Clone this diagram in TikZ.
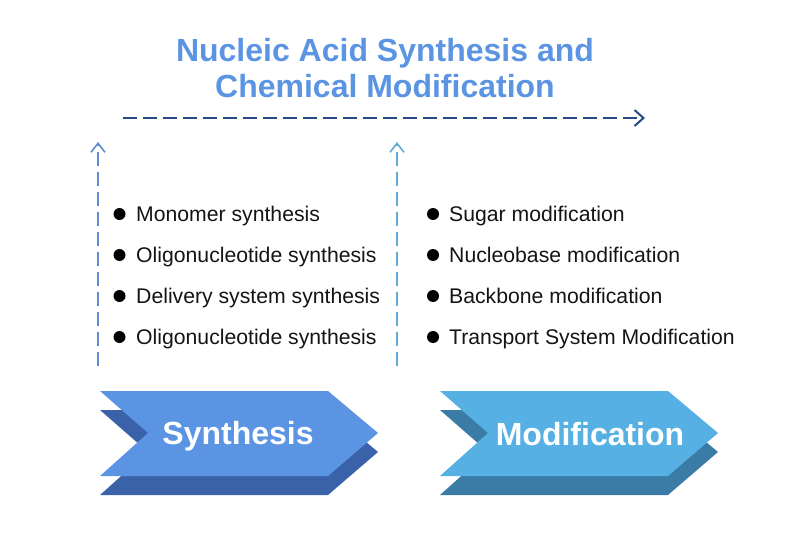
\documentclass[tikz,border=0pt]{standalone}
\usepackage{fontspec}
\setmainfont{Liberation Sans}
\usepackage{xcolor}
\usepackage{tikz}
\usetikzlibrary{positioning,arrows.meta}

\definecolor{synfront}{RGB}{91,148,227}
\definecolor{synback}{RGB}{58,98,168}
\definecolor{modfront}{RGB}{86,176,227}
\definecolor{modback}{RGB}{58,124,166}
\definecolor{flowblue}{RGB}{40,75,135}
\definecolor{upleft}{RGB}{95,140,210}
\definecolor{upright}{RGB}{95,172,212}

\begin{document}
\begin{tikzpicture}[x=1pt, y=-1pt,
  ttl/.style={font=\bfseries\fontsize{32}{36}\selectfont, text=synfront,
              inner sep=0pt, anchor=base},
  itm/.style={font=\fontsize{21.2}{24}\selectfont, text=black!92,
              inner sep=0pt, anchor=base west},
  dot/.style={circle, fill=black, minimum size=12pt, inner sep=0pt},
  lbl/.style={font=\bfseries\fontsize{32}{36}\selectfont, text=white,
              inner sep=0pt, anchor=base},
  flow/.style={draw=flowblue, line width=2pt, dash pattern=on 14pt off 6pt,
               -{Straight Barb[length=9pt, width=16pt, line width=2pt]}},
  up/.style={line width=1.5pt, dash pattern=on 14pt off 6pt,
             -{Straight Barb[length=9pt, width=14pt, line width=1.6pt]}}]
  \useasboundingbox (0,0) rectangle (810,537);
  % title
  \node[ttl] (title1) at (385,62) {Nucleic Acid Synthesis and};
  \node[ttl] (title2) at (385,97.5) {Chemical Modification};
  % dashed arrows
  \coordinate (flowA) at (123,118);
  \coordinate (flowB) at (645,118);
  \draw[flow] (flowA) -- (flowB);
  \coordinate (upA1) at (98,366);
  \coordinate (upA2) at (98,142);
  \coordinate (upB1) at (397,366);
  \coordinate (upB2) at (397,142);
  \draw[up, draw=upleft] (upA1) -- (upA2);
  \draw[up, draw=upright] (upB1) -- (upB2);
  % bullet lists
  \foreach \t [count=\i] in {Monomer synthesis, Oligonucleotide synthesis,
      Delivery system synthesis, Oligonucleotide synthesis} {
    \node[dot] (sd\i) at (119.5,173+41*\i) {};
    \node[itm] (si\i) at (136,180.5+41*\i) {\t};
  }
  \foreach \t [count=\i] in {Sugar modification, Nucleobase modification,
      Backbone modification, Transport System Modification} {
    \node[dot] (md\i) at (433,173+41*\i) {};
    \node[itm] (mi\i) at (449,180.5+41*\i) {\t};
  }
  % chevrons
  \foreach \dx/\fr/\bk in {0/synfront/synback, 340/modfront/modback} {
    \begin{scope}[xshift=\dx]
      \fill[\bk] (100,410) -- (328,410) -- (378,452) -- (328,495)
        -- (100,495) -- (148,452) -- cycle;
      \fill[\fr] (100,391) -- (328,391) -- (378,433) -- (328,476)
        -- (100,476) -- (148,433) -- cycle;
    \end{scope}
  }
  \node[lbl] (syn) at (238,444) {Synthesis};
  \node[lbl] (mod) at (590,445) {Modification};
\end{tikzpicture}
\end{document}
